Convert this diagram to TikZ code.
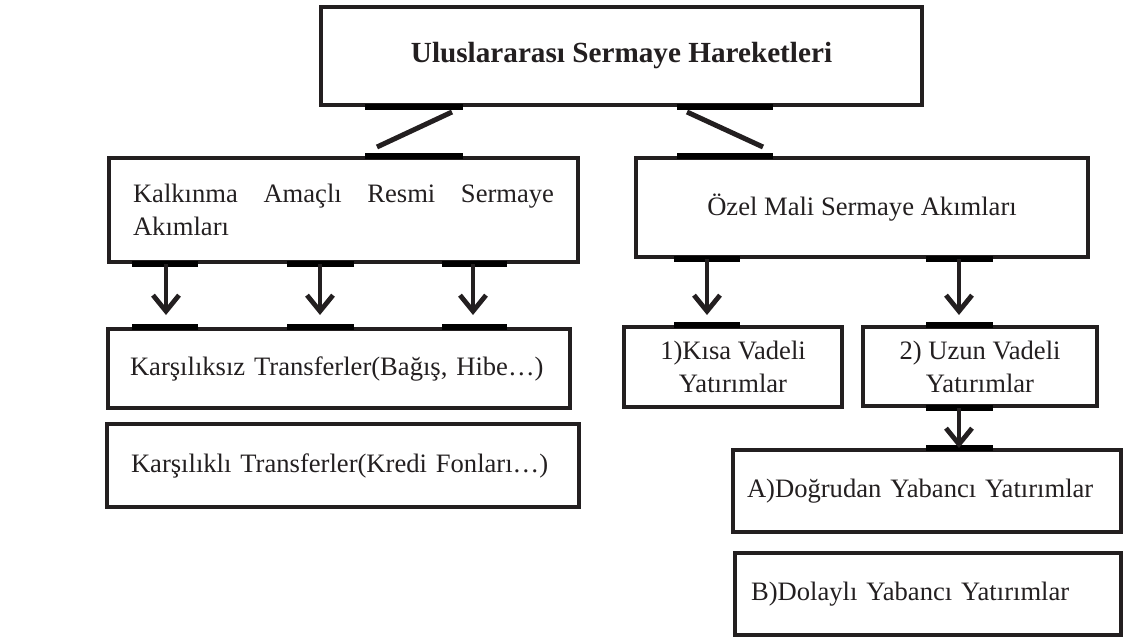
\documentclass[tikz,border=0pt]{standalone}
\usepackage{fontspec}
\setmainfont{Liberation Serif}
\usetikzlibrary{arrows.meta}
\definecolor{ink}{HTML}{231F20}

\begin{document}
\begin{tikzpicture}[x=0.5pt,y=-0.5pt,
    kutu/.style={draw=ink, line width=2pt, text=ink, inner sep=0pt, font=\fontsize{13.3}{16.5}\selectfont},
    bar/.style={line width=3pt, black},
    bag/.style={draw=ink, line width=2.5pt},
    ok/.style={draw=ink, line width=2.4pt, -{Straight Barb[length=8pt,width=13pt]}}]
    \useasboundingbox (0,0) rectangle (1123,637);
            \node[kutu, minimum width=300.5pt, minimum height=49pt, font=\bfseries\fontsize{14.6}{17}\selectfont] (top) at (621.5,56){Uluslararası Sermaye Hareketleri};
            \node[kutu, text width=210.5pt, align=justify, inner xsep=12pt, minimum height=52pt] (kalk) at (343.5,210){Kalkınma Amaçlı Resmi Sermaye Akımları};
            \node[kutu, minimum width=226pt, minimum height=49.5pt] (ozel) at (862,207.5){Özel Mali Sermaye Akımları};
            \node[kutu, text width=209pt, align=left, inner xsep=11pt, minimum height=39.5pt] (karsiz) at (339,368.5){Karşılıksız Transferler(Bağış, Hibe…)};
            \node[kutu, text width=212pt, align=left, inner xsep=12pt, minimum height=41.5pt] (karsli) at (343,465.5){Karşılıklı Transferler(Kredi Fonları…)};
            \node[kutu, align=center, minimum width=109pt, minimum height=40pt] (kisa) at (733,367){1)Kısa Vadeli\\Yatırımlar};
            \node[kutu, align=center, minimum width=117pt, minimum height=39.5pt] (uzun) at (980,366.5){2) Uzun Vadeli\\Yatırımlar};
            \node[kutu, text width=180pt, align=left, inner xsep=7pt, minimum height=41pt] (dogru) at (927,491){A)Doğrudan Yabancı Yatırımlar};
            \node[kutu, text width=177pt, align=left, inner xsep=8pt, minimum height=41pt] (dolayli) at (928,594){B)Dolaylı Yabancı Yatırımlar};
            \coordinate (l1) at (452,112);
            \coordinate (l2) at (377,147);
            \coordinate (r1) at (687,112);
            \coordinate (r2) at (763,147);
            \draw[bag] (l1) -- (l2);
            \draw[bag] (r1) -- (r2);
            \foreach \n/\p/\q in {top.south/365/463, top.south/677/773, kalk.north/365/463, ozel.north/677/773,
                kalk.south/132/198, kalk.south/287/354, kalk.south/442/507,
                karsiz.north/132/198, karsiz.north/287/354, karsiz.north/442/507,
                ozel.south/674/740, ozel.south/926/993, kisa.north/674/740,
                uzun.north/926/993, uzun.south/926/993, dogru.north/926/993}
                \draw[bar] (\n -| \p,0) -- (\n -| \q,0);
            \foreach \x in {166,320,473}
                \draw[ok, shorten >=6pt] (kalk.south -| \x,0) -- (karsiz.north -| \x,0);
            \draw[ok, shorten >=5pt] (ozel.south -| 707,0) -- (kisa.north -| 707,0);
            \draw[ok, shorten >=5pt] (ozel.south -| 959,0) -- (uzun.north -| 959,0);
            \draw[ok] (uzun.south -| 959,0) -- (dogru.north -| 959,0);
        \end{tikzpicture}
\end{document}
